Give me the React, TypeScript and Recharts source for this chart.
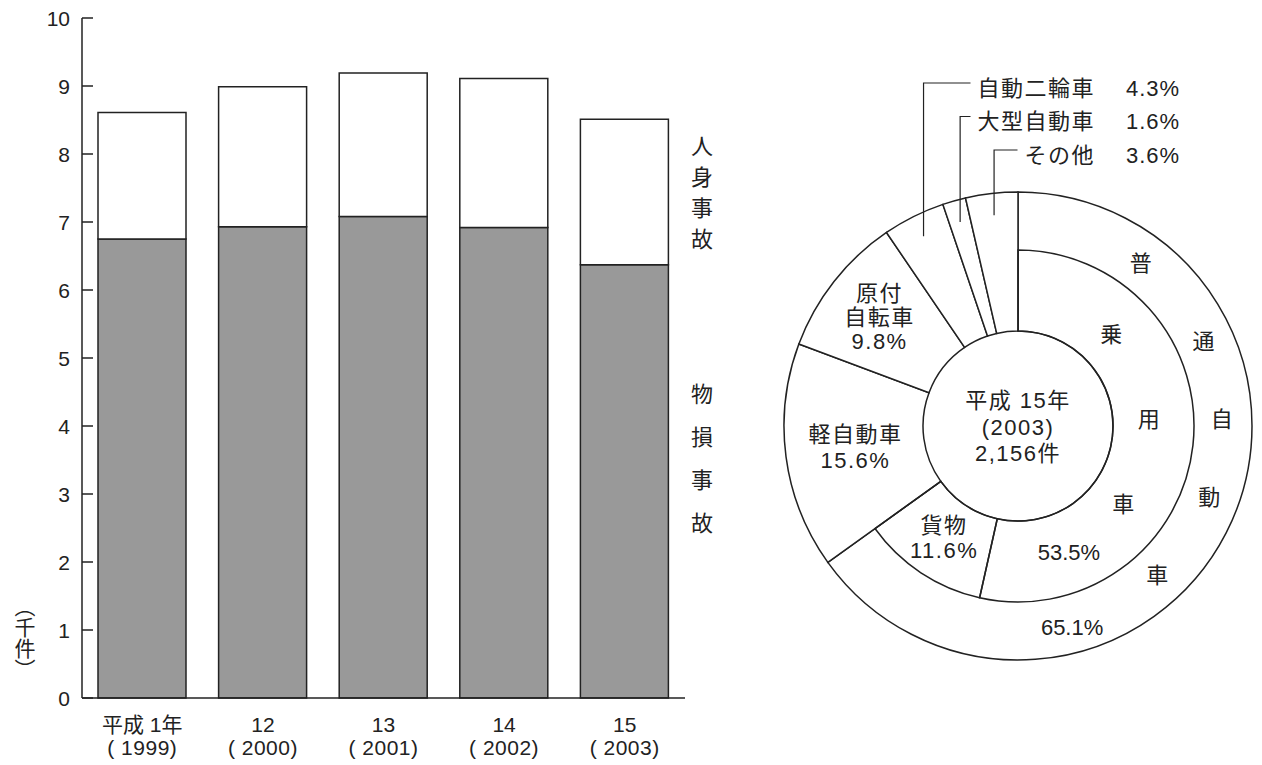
import { BarChart, Bar, XAxis, YAxis, PieChart, Pie, Cell } from "recharts";

// 事故件数（千件）
const eraLabels = ["平成 1年", "12", "13", "14", "15"];
const yearLabels = ["( 1999)", "( 2000)", "( 2001)", "( 2002)", "( 2003)"];
const propertyDamage = [6.75, 6.93, 7.08, 6.92, 6.37]; // 物損事故
const personalInjury = [1.86, 2.06, 2.11, 2.19, 2.14]; // 人身事故
const yTicks = [0, 1, 2, 3, 4, 5, 6, 7, 8, 9, 10];
const injuryName = "人身事故";
const propertyName = "物損事故";
const unitLabel = ["︵", "千", "件", "︶"];

// 車種別構成比 平成15年
const vehicleTypes = ["普通自動車", "軽自動車", "原付自転車", "自動二輪車", "大型自動車", "その他"];
const vehicleShares = [65.1, 15.6, 9.8, 4.3, 1.6, 3.6];
const ordinaryTypes = ["乗用車", "貨物"];
const ordinaryShares = [53.5, 11.6];
const centerLines = ["平成 15年", "(2003)", "2,156件"];

const INK = "#222";
const FONT = "'Liberation Sans', 'Noto Sans CJK JP', sans-serif";
const RAD = Math.PI / 180;

const barData = eraLabels.map((era, i) => ({
  era,
  year: yearLabels[i],
  property: propertyDamage[i],
  injury: personalInjury[i],
}));

const outerData = vehicleTypes.map((name, i) => ({ name, value: vehicleShares[i] }));
const innerData = [
  ...ordinaryTypes.map((name, i) => ({ name, value: ordinaryShares[i] })),
  { name: "", value: 100 - ordinaryShares.reduce((a, b) => a + b, 0) },
];

const txt = { fill: INK, fontFamily: FONT, fontSize: 22 };
const cjk = { ...txt, letterSpacing: 1.5 };

// clockwise from 12 o'clock
const onCompass = (cx: number, cy: number, r: number, deg: number) => ({
  x: cx + r * Math.sin(deg * RAD),
  y: cy - r * Math.cos(deg * RAD),
});

const YTick = (props: any) => {
  const { x, y, payload } = props;
  return (
    <g>
      <line x1={x + 12} y1={y} x2={x + 23} y2={y} stroke={INK} strokeWidth={1.5} />
      <text x={x} y={y} textAnchor="end" dominantBaseline="central" {...txt} fontSize={21}>
        {payload.value}
      </text>
    </g>
  );
};

const XTick = (props: any) => {
  const { x, y, payload, index } = props;
  return (
    <g>
      <text x={x} y={y + 34} textAnchor="middle" {...txt} fontSize={21}>
        {payload.value}
      </text>
      <text x={x} y={y + 57} textAnchor="middle" {...txt} fontSize={21} letterSpacing={0.5}>
        {yearLabels[index]}
      </text>
    </g>
  );
};

const entryOf = (p: any) => ({
  name: p.payload?.name ?? p.name,
  value: p.payload?.value ?? p.value,
});

// characters stacked down the right side of a ring
const arcChars = (cx: number, cy: number, r: number, word: string, step: number) =>
  word.split("").map((c, i) => {
    const dy = -7 + (i - (word.length - 1) / 2) * step;
    return (
      <text
        key={i}
        x={cx + Math.sqrt(r * r - dy * dy)}
        y={cy + dy}
        textAnchor="middle"
        dominantBaseline="central"
        {...txt}
      >
        {c}
      </text>
    );
  });

const stack = (x: number, y: number, lines: string[], lh: number) =>
  lines.map((l, i) => (
    <text
      key={i}
      x={x}
      y={y + (i - (lines.length - 1) / 2) * lh}
      textAnchor="middle"
      dominantBaseline="central"
      {...cjk}
    >
      {l}
    </text>
  ));

const renderOuterLabel = (p: any) => {
  const { cx, cy, midAngle, index } = p;
  const { name, value } = entryOf(p);
  const pct = `${Number(value).toFixed(1)}%`;
  const compass = 90 - midAngle;
  if (index === 0) {
    const at = onCompass(cx, cy, 209, 165);
    return (
      <g>
        {arcChars(cx, cy, 204, name, 78)}
        <text x={at.x} y={at.y} textAnchor="middle" dominantBaseline="central" {...txt}>
          {pct}
        </text>
        {stack(cx, cy + 1, centerLines, 26.5)}
      </g>
    );
  }
  if (index === 1 || index === 2) {
    const lines = index === 2 ? [name.slice(0, 2), name.slice(2), pct] : [name, pct];
    const at = onCompass(cx, cy, index === 2 ? 176 : 164, compass);
    return <g>{stack(at.x, at.y, lines, index === 2 ? 24 : 26)}</g>;
  }
  const rowY = cy - 338 + (index - 3) * 33.5;
  const p0 = onCompass(cx, cy, 212, compass);
  const nameRight = cx + 77;
  const lineEnd = nameRight - name.length * 23.5 - 7;
  return (
    <g>
      <polyline
        points={`${p0.x},${p0.y} ${p0.x},${rowY - 5} ${lineEnd},${rowY - 5}`}
        fill="none"
        stroke={INK}
        strokeWidth={1.2}
      />
      <text x={nameRight} y={rowY} textAnchor="end" dominantBaseline="central" {...cjk}>
        {name}
      </text>
      <text x={cx + 108} y={rowY} textAnchor="start" dominantBaseline="central" {...txt} letterSpacing={1}>
        {pct}
      </text>
    </g>
  );
};

const renderInnerLabel = (p: any) => {
  const { cx, cy, midAngle, index } = p;
  const { name, value } = entryOf(p);
  if (!name) return <g />;
  const pct = `${Number(value).toFixed(1)}%`;
  if (index === 0) {
    const at = onCompass(cx, cy, 136, 158);
    return (
      <g>
        {arcChars(cx, cy, 131, name, 85)}
        <text x={at.x} y={at.y} textAnchor="middle" dominantBaseline="central" {...txt}>
          {pct}
        </text>
      </g>
    );
  }
  const at = onCompass(cx, cy, 134, 90 - midAngle);
  return <g>{stack(at.x, at.y, [name, pct], 25)}</g>;
};

export default function App() {
  return (
    <div
      style={{
        position: "absolute",
        left: 0,
        top: 0,
        width: 1262,
        height: 765,
        background: "#fff",
        fontFamily: FONT,
      }}
    >
      <div style={{ position: "absolute", left: 0, top: 0 }}>
        <BarChart
          width={720}
          height={765}
          data={barData}
          margin={{ top: 18, right: 35, left: 0, bottom: 7 }}
          barSize={88}
        >
          <XAxis
            dataKey="era"
            height={60}
            interval={0}
            tickLine={false}
            tickSize={0}
            tickMargin={0}
            axisLine={{ stroke: INK, strokeWidth: 1.5 }}
            tick={<XTick />}
          />
          <YAxis
            width={82}
            domain={[0, 10]}
            ticks={yTicks}
            interval={0}
            tickLine={false}
            tickSize={0}
            tickMargin={12}
            axisLine={{ stroke: INK, strokeWidth: 1.5 }}
            tick={<YTick />}
          />
          <Bar
            dataKey="property"
            name={propertyName}
            stackId="a"
            fill="#999999"
            stroke={INK}
            strokeWidth={1.5}
            isAnimationActive={false}
          />
          <Bar
            dataKey="injury"
            name={injuryName}
            stackId="a"
            fill="#ffffff"
            stroke={INK}
            strokeWidth={1.5}
            isAnimationActive={false}
          />
        </BarChart>
      </div>

      <svg
        width={1262}
        height={765}
        style={{ position: "absolute", left: 0, top: 0, pointerEvents: "none" }}
      >
        {unitLabel.map((c, i) => (
          <text key={c} x={25} y={627 + (i - 1) * 21} textAnchor="middle" dominantBaseline="central" {...txt} fontSize={21}>
            {c}
          </text>
        ))}
        {injuryName.split("").map((c, i) => (
          <text key={"i" + i} x={702} y={146 + i * 31.3} textAnchor="middle" dominantBaseline="central" {...txt}>
            {c}
          </text>
        ))}
        {propertyName.split("").map((c, i) => (
          <text key={"p" + i} x={702} y={394 + i * 43} textAnchor="middle" dominantBaseline="central" {...txt}>
            {c}
          </text>
        ))}
      </svg>

      <div style={{ position: "absolute", left: 740, top: 0 }}>
        <PieChart width={522} height={765} margin={{ top: 0, right: 0, bottom: 0, left: 0 }}>
          <Pie
            data={outerData}
            dataKey="value"
            nameKey="name"
            cx={278}
            cy={426}
            innerRadius={95}
            outerRadius={234}
            startAngle={90}
            endAngle={-270}
            fill="#ffffff"
            stroke={INK}
            strokeWidth={1.5}
            label={renderOuterLabel}
            labelLine={false}
            isAnimationActive={false}
          />
          <Pie
            data={innerData}
            dataKey="value"
            nameKey="name"
            cx={278}
            cy={426}
            innerRadius={95}
            outerRadius={176}
            startAngle={90}
            endAngle={-270}
            label={renderInnerLabel}
            labelLine={false}
            isAnimationActive={false}
          >
            {innerData.map((d, i) => (
              <Cell key={i} fill="none" stroke={d.name ? INK : "none"} strokeWidth={1.5} />
            ))}
          </Pie>
        </PieChart>
      </div>
    </div>
  );
}
